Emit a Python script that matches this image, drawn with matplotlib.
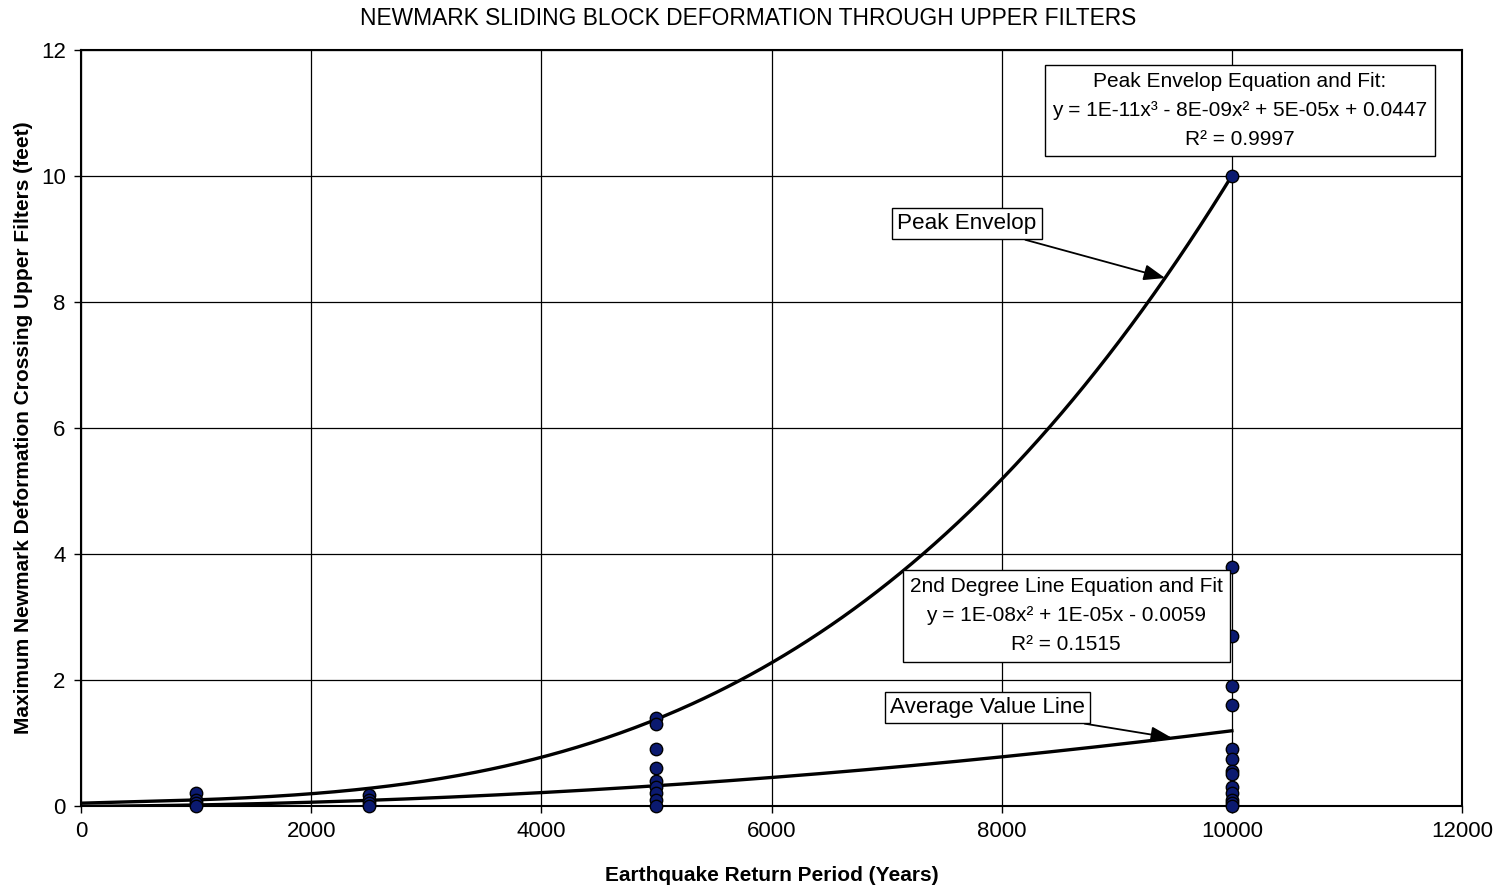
import numpy as np
import matplotlib
matplotlib.use("Agg")
import matplotlib.pyplot as plt

plt.rcParams['font.family'] = ['Liberation Sans', 'DejaVu Sans']

# ---- data ----
x_1000 = [1000] * 4
y_1000 = [0.2, 0.1, 0.05, 0.0]
x_2500 = [2500] * 4
y_2500 = [0.18, 0.1, 0.05, 0.0]
x_5000 = [5000] * 9
y_5000 = [1.4, 1.3, 0.9, 0.6, 0.4, 0.3, 0.2, 0.1, 0.0]
x_10000 = [10000] * 14
y_10000 = [10.0, 3.8, 2.7, 1.9, 1.6, 0.9, 0.75, 0.55, 0.5, 0.3, 0.2, 0.1, 0.05, 0.0]

# trendline coefficients (highest power first)
peak_coef = [1.026e-11, -8e-09, 5e-05, 0.0447]
avg_coef = [1.09e-08, 1.1e-05, -0.0059]
fit_range = [0, 10000]

x_ticks = [0, 2000, 4000, 6000, 8000, 10000, 12000]
y_ticks = [0, 2, 4, 6, 8, 10, 12]

title = "NEWMARK SLIDING BLOCK DEFORMATION THROUGH UPPER FILTERS"
xlabel = "Earthquake Return Period (Years)"
ylabel = "Maximum Newmark Deformation Crossing Upper Filters (feet)"
peak_box = "Peak Envelop Equation and Fit:\ny = 1E-11x\u00b3 - 8E-09x\u00b2 + 5E-05x + 0.0447\nR\u00b2 = 0.9997"
avg_box = "2nd Degree Line Equation and Fit\ny = 1E-08x\u00b2 + 1E-05x - 0.0059\nR\u00b2 = 0.1515"

# ---- figure ----
fig = plt.figure(figsize=(15, 8.86), dpi=100)
ax = fig.add_axes([0.054, 0.0903, 0.9207, 0.8533])

xs = np.linspace(fit_range[0], fit_range[1], 400)
ax.plot(xs, np.polyval(peak_coef, xs), color='black', lw=2.4, zorder=3)
ax.plot(xs, np.polyval(avg_coef, xs), color='black', lw=2.4, zorder=3)

all_x = x_1000 + x_2500 + x_5000 + x_10000
all_y = y_1000 + y_2500 + y_5000 + y_10000
ax.scatter(all_x, all_y, s=80, color='#0b1a70', edgecolor='black',
           linewidth=1.0, zorder=4, clip_on=False)

ax.set_xlim(0, 12000)
ax.set_ylim(0, 12)
ax.set_xticks(x_ticks)
ax.set_yticks(y_ticks)
ax.tick_params(axis='both', labelsize=16, direction='out', length=5,
               width=1, color='black', pad=6)
ax.grid(True, color='black', lw=0.9)
ax.set_axisbelow(True)
for s in ax.spines.values():
    s.set_linewidth(1.5)
    s.set_color('black')

ax.set_xlabel(xlabel, fontsize=15, fontweight='bold', labelpad=17)
ax.set_ylabel(ylabel, fontsize=15, fontweight='bold', labelpad=6)
fig.text(0.499, 0.979, title, ha='center', va='center', fontsize=16.4)

boxprops = dict(boxstyle='square,pad=0.34', fc='white', ec='black', lw=1.0)
ax.text(10071, 11.04, peak_box, ha='center', va='center', fontsize=15,
        linespacing=1.68, bbox=boxprops, zorder=5)
ax.text(8559, 3.02, avg_box, ha='center', va='center', fontsize=15,
        linespacing=1.68, bbox=boxprops, zorder=5)

arrowprops = dict(arrowstyle='-|>,head_length=0.8,head_width=0.3', color='black', lw=1.3,
                  shrinkA=0, shrinkB=0)
lblbox = dict(boxstyle='square,pad=0.22', fc='white', ec='black', lw=1.0)
ax.annotate("Peak Envelop", xy=(9420, 8.38), xytext=(7699, 9.24),
            fontsize=16.2, ha='center', va='center', bbox=lblbox,
            arrowprops=arrowprops, zorder=5)
ax.annotate("Average Value Line", xy=(9480, 1.08), xytext=(7873, 1.56),
            fontsize=16.2, ha='center', va='center', bbox=lblbox,
            arrowprops=arrowprops, zorder=5)

fig.savefig("out.png", dpi=100, facecolor='white')
